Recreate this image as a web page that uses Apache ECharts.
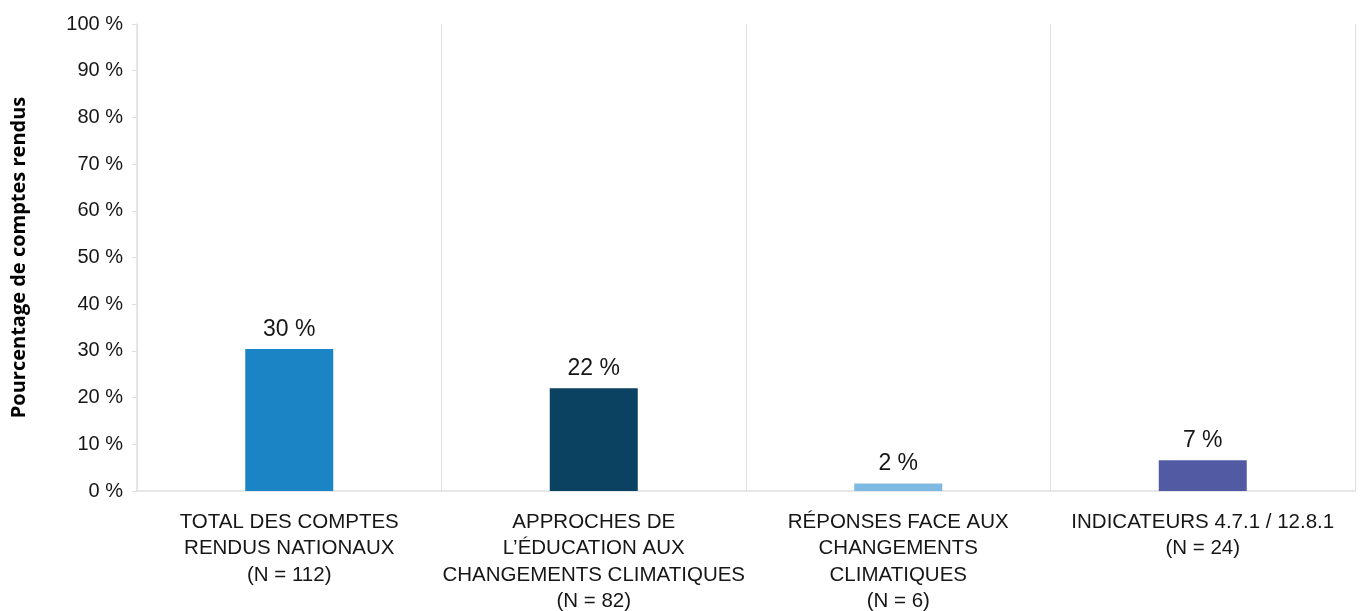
<!DOCTYPE html>
<html>
<head>
<meta charset="utf-8">
<title>Pourcentage de comptes rendus</title>
<script src="https://cdn.jsdelivr.net/npm/echarts@6/dist/echarts.min.js"></script>
<style>
  html, body { margin: 0; padding: 0; background: #fff; }
  #chart { width: 1365px; height: 611px; }
</style>
</head>
<body>
<div id="chart"></div>
<script>
// categories (x axis labels)
let categories = [
    'TOTAL DES COMPTES\nRENDUS NATIONAUX\n(N = 112)',
    'APPROCHES DE\nL\u2019ÉDUCATION AUX\nCHANGEMENTS CLIMATIQUES\n(N = 82)',
    'RÉPONSES FACE AUX\nCHANGEMENTS\nCLIMATIQUES\n(N = 6)',
    'INDICATEURS 4.7.1 / 12.8.1\n(N = 24)'
];
// share of reports, in percent
let values = [30.4, 22.0, 1.6, 6.6];
let barColors = ['#1b84c5', '#0b4261', '#7db9e0', '#525aa3'];

let chart = echarts.init(document.getElementById('chart'));

let textColor = '#161616';
let lineColor = '#e0e0e0';
let labelFont = "'Liberation Sans', Arial, sans-serif";

let option = {
    backgroundColor: '#fff',
    animation: false,
    grid: {
        left: 137,
        right: 10,
        top: 24,
        bottom: 120,
        containLabel: false,
        outerBoundsMode: 'none'
    },
    xAxis: {
        type: 'category',
        data: categories,
        axisLine: {show: true, lineStyle: {color: lineColor, width: 1.5}},
        axisTick: {show: false},
        splitLine: {show: true, interval: 0, lineStyle: {color: lineColor, width: 1}},
        axisLabel: {
            interval: 0,
            margin: 18,
            color: textColor,
            fontFamily: labelFont,
            fontSize: 20.5,
            lineHeight: 26.5
        }
    },
    yAxis: {
        type: 'value',
        min: 0,
        max: 100,
        interval: 10,
        name: 'Pourcentage de comptes rendus',
        nameLocation: 'middle',
        nameGap: 108,
        nameRotate: 90,
        nameTextStyle: {
            color: '#000',
            fontFamily: "'Open Sans', sans-serif",
            fontWeight: 'bold',
            fontSize: 20
        },
        axisLine: {show: true, lineStyle: {color: lineColor, width: 1.5}},
        axisTick: {show: true, length: 5, lineStyle: {color: lineColor}},
        splitLine: {show: false},
        axisLabel: {
            margin: 14,
            color: textColor,
            fontFamily: labelFont,
            fontSize: 20,
            formatter: function (v) {
                return v + ' %';
            }
        }
    },
    series: [
        {
            type: 'bar',
            barWidth: 88,
            data: values.map(function (v, i) {
                return {value: v, itemStyle: {color: barColors[i]}};
            }),
            label: {
                show: true,
                position: 'top',
                distance: 8,
                color: textColor,
                fontFamily: labelFont,
                fontSize: 23,
                formatter: function (p) {
                    return Math.round(p.value) + ' %';
                }
            }
        }
    ]
};

chart.setOption(option);
</script>
</body>
</html>
